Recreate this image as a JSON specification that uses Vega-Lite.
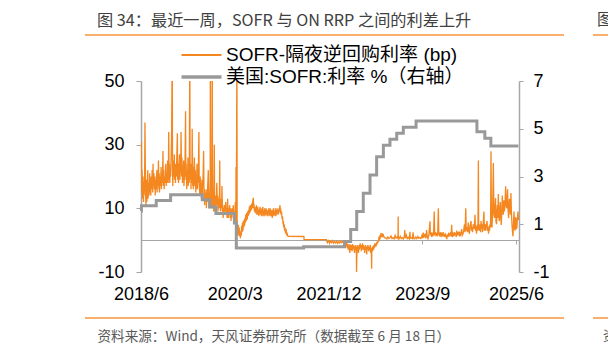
{
"$schema":"https://vega.github.io/schema/vega-lite/v6.json",
"width":378,"height":191,
"autosize":{"type":"none"},
"padding":{"left":141,"top":81,"right":89,"bottom":82},
"background":"white",
"config":{"view":{"stroke":null},"font":"Liberation Sans, Noto Sans CJK SC","axis":{"grid":false}},
"title":{"text":"图 34：最近一周，SOFR 与 ON RRP 之间的利差上升","anchor":"start","frame":"group","dx":-44,"dy":16,"offset":-14,"fontSize":16.2,"font":"Noto Sans CJK SC","fontWeight":"normal","color":"#404040","baseline":"alphabetic"},
"datasets":{
"spread":[
{"d":"2018-06-01","v":25},{"d":"2018-06-04","v":31},{"d":"2018-06-06","v":15},{"d":"2018-06-08","v":22},{"d":"2018-06-12","v":13},{"d":"2018-06-14","v":20},{"d":"2018-06-18","v":12},{"d":"2018-06-20","v":18},{"d":"2018-06-22","v":14},{"d":"2018-06-26","v":21},{"d":"2018-06-28","v":37},
{"d":"2018-07-02","v":15},{"d":"2018-07-05","v":11},{"d":"2018-07-09","v":19},{"d":"2018-07-11","v":12},{"d":"2018-07-13","v":17},{"d":"2018-07-17","v":22},{"d":"2018-07-19","v":13},{"d":"2018-07-23","v":18},{"d":"2018-07-26","v":14},{"d":"2018-07-30","v":21},
{"d":"2018-08-01","v":15},{"d":"2018-08-03","v":19},{"d":"2018-08-07","v":14},{"d":"2018-08-09","v":20},{"d":"2018-08-13","v":16},{"d":"2018-08-16","v":22},{"d":"2018-08-20","v":15},{"d":"2018-08-22","v":24},{"d":"2018-08-24","v":17},{"d":"2018-08-28","v":21},{"d":"2018-08-31","v":16},
{"d":"2018-09-04","v":20},{"d":"2018-09-06","v":14},{"d":"2018-09-10","v":19},{"d":"2018-09-13","v":16},{"d":"2018-09-17","v":22},{"d":"2018-09-19","v":15},{"d":"2018-09-21","v":20},{"d":"2018-09-25","v":17},{"d":"2018-09-28","v":25},
{"d":"2018-10-01","v":16},{"d":"2018-10-03","v":21},{"d":"2018-10-05","v":15},{"d":"2018-10-09","v":20},{"d":"2018-10-12","v":17},{"d":"2018-10-16","v":23},{"d":"2018-10-18","v":16},{"d":"2018-10-22","v":21},{"d":"2018-10-25","v":18},{"d":"2018-10-29","v":28},{"d":"2018-10-31","v":17},
{"d":"2018-11-02","v":22},{"d":"2018-11-06","v":16},{"d":"2018-11-08","v":20},{"d":"2018-11-13","v":18},{"d":"2018-11-15","v":23},{"d":"2018-11-18","v":24},{"d":"2018-11-20","v":17},{"d":"2018-11-23","v":21},{"d":"2018-11-27","v":18},{"d":"2018-11-30","v":25},
{"d":"2018-12-03","v":18},{"d":"2018-12-05","v":22},{"d":"2018-12-07","v":34},{"d":"2018-12-10","v":19},{"d":"2018-12-12","v":24},{"d":"2018-12-14","v":18},{"d":"2018-12-18","v":22},{"d":"2018-12-20","v":20},{"d":"2018-12-24","v":27},{"d":"2018-12-27","v":35},{"d":"2018-12-31","v":60},
{"d":"2019-01-02","v":22},{"d":"2019-01-04","v":17},{"d":"2019-01-08","v":25},{"d":"2019-01-10","v":20},{"d":"2019-01-14","v":27},{"d":"2019-01-16","v":19},{"d":"2019-01-18","v":23},{"d":"2019-01-22","v":18},{"d":"2019-01-24","v":24},{"d":"2019-01-28","v":20},{"d":"2019-01-31","v":26},
{"d":"2019-02-04","v":33.6},{"d":"2019-02-06","v":19},{"d":"2019-02-08","v":24},{"d":"2019-02-12","v":18},{"d":"2019-02-14","v":22},{"d":"2019-02-19","v":27},{"d":"2019-02-21","v":19},{"d":"2019-02-25","v":24},{"d":"2019-02-27","v":21},
{"d":"2019-03-01","v":34},{"d":"2019-03-05","v":20},{"d":"2019-03-07","v":26},{"d":"2019-03-11","v":18},{"d":"2019-03-13","v":23},{"d":"2019-03-15","v":20},{"d":"2019-03-19","v":25},{"d":"2019-03-21","v":17},{"d":"2019-03-25","v":22},{"d":"2019-03-27","v":19},
{"d":"2019-04-01","v":40.5},{"d":"2019-04-03","v":20},{"d":"2019-04-05","v":24},{"d":"2019-04-09","v":16},{"d":"2019-04-11","v":22},{"d":"2019-04-15","v":19},{"d":"2019-04-17","v":26},{"d":"2019-04-19","v":17},{"d":"2019-04-23","v":21},{"d":"2019-04-26","v":18},{"d":"2019-04-30","v":60},
{"d":"2019-05-02","v":19},{"d":"2019-05-06","v":24},{"d":"2019-05-08","v":16},{"d":"2019-05-10","v":22},{"d":"2019-05-14","v":18},{"d":"2019-05-16","v":35},{"d":"2019-05-20","v":17},{"d":"2019-05-22","v":23},{"d":"2019-05-24","v":16},{"d":"2019-05-29","v":21},{"d":"2019-05-31","v":26},
{"d":"2019-06-04","v":17},{"d":"2019-06-06","v":22},{"d":"2019-06-10","v":15},{"d":"2019-06-12","v":20},{"d":"2019-06-14","v":17},{"d":"2019-06-18","v":24},{"d":"2019-06-20","v":16},{"d":"2019-06-24","v":21},{"d":"2019-06-26","v":18},
{"d":"2019-07-01","v":34},{"d":"2019-07-03","v":17},{"d":"2019-07-08","v":14},{"d":"2019-07-10","v":20},{"d":"2019-07-12","v":15},{"d":"2019-07-16","v":18},{"d":"2019-07-18","v":13},{"d":"2019-07-22","v":19},{"d":"2019-07-24","v":14},{"d":"2019-07-26","v":17},{"d":"2019-07-30","v":21},
{"d":"2019-08-02","v":28},{"d":"2019-08-05","v":13},{"d":"2019-08-07","v":16},{"d":"2019-08-09","v":11},{"d":"2019-08-13","v":15},{"d":"2019-08-15","v":12},{"d":"2019-08-19","v":16},{"d":"2019-08-21","v":10},{"d":"2019-08-23","v":14},{"d":"2019-08-27","v":12},{"d":"2019-08-30","v":17},
{"d":"2019-09-03","v":22},{"d":"2019-09-05","v":13},{"d":"2019-09-09","v":10},{"d":"2019-09-11","v":15},{"d":"2019-09-13","v":12},{"d":"2019-09-16","v":20},{"d":"2019-09-17","v":70},{"d":"2019-09-18","v":22},{"d":"2019-09-20","v":12},{"d":"2019-09-24","v":15},{"d":"2019-09-26","v":10},{"d":"2019-09-30","v":60},
{"d":"2019-10-02","v":14},{"d":"2019-10-04","v":10},{"d":"2019-10-08","v":15},{"d":"2019-10-10","v":9},{"d":"2019-10-14","v":30},{"d":"2019-10-16","v":12},{"d":"2019-10-18","v":9},{"d":"2019-10-22","v":14},{"d":"2019-10-24","v":10},{"d":"2019-10-28","v":13},{"d":"2019-10-31","v":18},
{"d":"2019-11-04","v":11},{"d":"2019-11-06","v":14},{"d":"2019-11-08","v":9},{"d":"2019-11-12","v":13},{"d":"2019-11-14","v":10},{"d":"2019-11-18","v":14},{"d":"2019-11-20","v":25},{"d":"2019-11-22","v":11},{"d":"2019-11-26","v":9},{"d":"2019-11-29","v":13},
{"d":"2019-12-03","v":10},{"d":"2019-12-05","v":17},{"d":"2019-12-09","v":9},{"d":"2019-12-11","v":11},{"d":"2019-12-13","v":7},{"d":"2019-12-17","v":10},{"d":"2019-12-19","v":8},{"d":"2019-12-23","v":11},{"d":"2019-12-27","v":9},{"d":"2019-12-31","v":12},
{"d":"2020-01-03","v":8},{"d":"2020-01-07","v":10},{"d":"2020-01-09","v":7},{"d":"2020-01-13","v":13},{"d":"2020-01-15","v":9},{"d":"2020-01-17","v":7},{"d":"2020-01-21","v":10},{"d":"2020-01-23","v":8},{"d":"2020-01-27","v":11},{"d":"2020-01-30","v":7},
{"d":"2020-02-03","v":10},{"d":"2020-02-05","v":6},{"d":"2020-02-07","v":9},{"d":"2020-02-11","v":7},{"d":"2020-02-13","v":10},{"d":"2020-02-18","v":8},{"d":"2020-02-20","v":11},{"d":"2020-02-24","v":7},{"d":"2020-02-26","v":9},{"d":"2020-02-28","v":6},
{"d":"2020-03-03","v":9},{"d":"2020-03-05","v":12},{"d":"2020-03-09","v":6},{"d":"2020-03-10","v":23},{"d":"2020-03-12","v":5},{"d":"2020-03-16","v":60},{"d":"2020-03-18","v":4},{"d":"2020-03-20","v":2},
{"d":"2020-03-24","v":1.5},{"d":"2020-03-26","v":4.8},{"d":"2020-03-30","v":2},{"d":"2020-04-01","v":4},{"d":"2020-04-03","v":1.2},{"d":"2020-04-07","v":2.5},{"d":"2020-04-09","v":0.6},{"d":"2020-04-13","v":3},{"d":"2020-04-15","v":1.5},{"d":"2020-04-17","v":4.5},{"d":"2020-04-21","v":2.5},{"d":"2020-04-23","v":5.5},{"d":"2020-04-27","v":3},{"d":"2020-04-29","v":6},
{"d":"2020-05-01","v":4},{"d":"2020-05-05","v":6.5},{"d":"2020-05-07","v":4.5},{"d":"2020-05-11","v":7},{"d":"2020-05-13","v":5.5},{"d":"2020-05-15","v":8},{"d":"2020-05-19","v":6},{"d":"2020-05-21","v":8.5},{"d":"2020-05-26","v":6.5},{"d":"2020-05-28","v":9},
{"d":"2020-06-01","v":7.5},{"d":"2020-06-03","v":9.5},{"d":"2020-06-05","v":8},{"d":"2020-06-09","v":10.5},{"d":"2020-06-11","v":8.5},{"d":"2020-06-15","v":11},{"d":"2020-06-17","v":9},{"d":"2020-06-19","v":10.5},{"d":"2020-06-23","v":9.5},{"d":"2020-06-25","v":11.5},{"d":"2020-06-29","v":10},
{"d":"2020-07-01","v":12},{"d":"2020-07-06","v":13.3},{"d":"2020-07-08","v":10},{"d":"2020-07-10","v":11.5},{"d":"2020-07-14","v":9},{"d":"2020-07-16","v":10.5},{"d":"2020-07-20","v":8.5},{"d":"2020-07-22","v":10},{"d":"2020-07-24","v":9},{"d":"2020-07-28","v":11},{"d":"2020-07-30","v":8},
{"d":"2020-08-03","v":9.5},{"d":"2020-08-05","v":10.5},{"d":"2020-08-07","v":8},{"d":"2020-08-11","v":9.5},{"d":"2020-08-13","v":7.5},{"d":"2020-08-17","v":10},{"d":"2020-08-19","v":8.5},{"d":"2020-08-21","v":10.5},{"d":"2020-08-25","v":8},{"d":"2020-08-27","v":9.5},{"d":"2020-08-31","v":7.5},
{"d":"2020-09-02","v":10},{"d":"2020-09-04","v":8.5},{"d":"2020-09-09","v":10.5},{"d":"2020-09-11","v":7.5},{"d":"2020-09-15","v":9},{"d":"2020-09-17","v":8},{"d":"2020-09-21","v":10},{"d":"2020-09-23","v":7.5},{"d":"2020-09-25","v":9.5},{"d":"2020-09-29","v":8},
{"d":"2020-10-01","v":10},{"d":"2020-10-05","v":8.5},{"d":"2020-10-07","v":9.5},{"d":"2020-10-09","v":7.5},{"d":"2020-10-13","v":9},{"d":"2020-10-15","v":8},{"d":"2020-10-19","v":10},{"d":"2020-10-21","v":7.5},{"d":"2020-10-23","v":9},{"d":"2020-10-27","v":8},{"d":"2020-10-29","v":10},
{"d":"2020-11-02","v":7.5},{"d":"2020-11-04","v":9},{"d":"2020-11-06","v":8},{"d":"2020-11-10","v":9.5},{"d":"2020-11-12","v":7},{"d":"2020-11-16","v":9},{"d":"2020-11-18","v":8},{"d":"2020-11-20","v":10},{"d":"2020-11-24","v":7.5},{"d":"2020-11-27","v":9},
{"d":"2020-12-01","v":8},{"d":"2020-12-03","v":10},{"d":"2020-12-07","v":7.5},{"d":"2020-12-09","v":9.5},{"d":"2020-12-11","v":8},{"d":"2020-12-15","v":10},{"d":"2020-12-17","v":8.5},{"d":"2020-12-21","v":9.5},{"d":"2020-12-23","v":8},{"d":"2020-12-28","v":10},{"d":"2020-12-30","v":9},
{"d":"2021-01-04","v":11},{"d":"2021-01-06","v":8.5},{"d":"2021-01-08","v":10},{"d":"2021-01-12","v":8},{"d":"2021-01-14","v":9},{"d":"2021-01-19","v":6.5},{"d":"2021-01-21","v":7.5},{"d":"2021-01-25","v":5},{"d":"2021-01-27","v":6},{"d":"2021-01-29","v":4},
{"d":"2021-02-02","v":5},{"d":"2021-02-04","v":3},{"d":"2021-02-08","v":4},{"d":"2021-02-10","v":2.5},{"d":"2021-02-16","v":3},{"d":"2021-02-19","v":1.8},{"d":"2021-02-23","v":2},{"d":"2021-02-26","v":1.3},{"d":"2021-03-02","v":1.2},{"d":"2021-06-16","v":1.15},
{"d":"2021-06-17","v":0.2},{"d":"2021-11-17","v":0.2},{"d":"2021-11-19","v":-0.3},{"d":"2021-11-24","v":-0.8},{"d":"2021-12-01","v":-0.2},{"d":"2021-12-08","v":-0.9},{"d":"2021-12-15","v":-0.3},{"d":"2021-12-22","v":-0.8},{"d":"2021-12-29","v":-0.2},
{"d":"2022-01-05","v":-0.9},{"d":"2022-01-12","v":-0.4},{"d":"2022-01-19","v":-0.9},{"d":"2022-01-26","v":-0.3},{"d":"2022-02-02","v":-1},{"d":"2022-02-09","v":-0.4},{"d":"2022-02-16","v":-0.9},{"d":"2022-02-23","v":-0.3},{"d":"2022-03-02","v":-0.8},{"d":"2022-03-09","v":-0.4},{"d":"2022-03-14","v":-1},
{"d":"2022-03-17","v":0},{"d":"2022-03-21","v":-1},{"d":"2022-03-24","v":-0.3},{"d":"2022-03-28","v":-1.5},{"d":"2022-03-31","v":-0.5},
{"d":"2022-04-04","v":-2},{"d":"2022-04-06","v":-1},{"d":"2022-04-08","v":-2.5},{"d":"2022-04-12","v":-1.2},{"d":"2022-04-14","v":-3},{"d":"2022-04-19","v":-1.5},{"d":"2022-04-21","v":-2.2},{"d":"2022-04-25","v":-4},{"d":"2022-04-27","v":-1.3},{"d":"2022-04-29","v":-2.8},
{"d":"2022-05-03","v":-1.5},{"d":"2022-05-05","v":-3.2},{"d":"2022-05-09","v":-2},{"d":"2022-05-11","v":-3.5},{"d":"2022-05-13","v":-1.2},{"d":"2022-05-17","v":-2.8},{"d":"2022-05-19","v":-1.6},{"d":"2022-05-23","v":-3},{"d":"2022-05-25","v":-2},{"d":"2022-05-27","v":-4},
{"d":"2022-06-01","v":-1.5},{"d":"2022-06-03","v":-3},{"d":"2022-06-07","v":-2},{"d":"2022-06-09","v":-4.5},{"d":"2022-06-10","v":-10},{"d":"2022-06-13","v":-3},{"d":"2022-06-15","v":-1.5},{"d":"2022-06-17","v":-3.5},{"d":"2022-06-21","v":-2},{"d":"2022-06-23","v":-4},{"d":"2022-06-27","v":-1.5},{"d":"2022-06-29","v":-3},
{"d":"2022-07-01","v":-2.5},{"d":"2022-07-05","v":-1},{"d":"2022-07-07","v":-2.5},{"d":"2022-07-11","v":-1.5},{"d":"2022-07-13","v":-3.5},{"d":"2022-07-15","v":-2},{"d":"2022-07-19","v":-3},{"d":"2022-07-21","v":-1},{"d":"2022-07-25","v":-2.5},{"d":"2022-07-27","v":-1.5},{"d":"2022-07-29","v":-3},
{"d":"2022-08-02","v":-2},{"d":"2022-08-04","v":-4},{"d":"2022-08-08","v":-2.5},{"d":"2022-08-10","v":-1.5},{"d":"2022-08-12","v":-3},{"d":"2022-08-16","v":-2},{"d":"2022-08-18","v":-4.5},{"d":"2022-08-22","v":-2},{"d":"2022-08-24","v":-3},{"d":"2022-08-26","v":-1.5},{"d":"2022-08-30","v":-2.5},
{"d":"2022-09-01","v":-3.5},{"d":"2022-09-06","v":-2},{"d":"2022-09-08","v":-3},{"d":"2022-09-12","v":-1.5},{"d":"2022-09-14","v":-4},{"d":"2022-09-16","v":-2.5},{"d":"2022-09-19","v":-3},{"d":"2022-09-21","v":-9},{"d":"2022-09-22","v":-3.5},{"d":"2022-09-26","v":-2},{"d":"2022-09-28","v":-3.5},{"d":"2022-09-30","v":-2},
{"d":"2022-10-04","v":-3},{"d":"2022-10-06","v":-1.5},{"d":"2022-10-10","v":-2.5},{"d":"2022-10-12","v":-1},{"d":"2022-10-14","v":-2},{"d":"2022-10-18","v":-1.2},{"d":"2022-10-20","v":-2},{"d":"2022-10-24","v":-0.8},{"d":"2022-10-26","v":-1.5},{"d":"2022-10-28","v":-0.5},
{"d":"2022-11-01","v":-1},{"d":"2022-11-03","v":0},{"d":"2022-11-07","v":-0.5},{"d":"2022-11-09","v":0.5},{"d":"2022-11-14","v":0},{"d":"2022-11-16","v":1.5},{"d":"2022-11-18","v":0.5},{"d":"2022-11-22","v":1.7},{"d":"2022-11-28","v":1},{"d":"2022-11-30","v":2.2},
{"d":"2022-12-02","v":1.5},{"d":"2022-12-06","v":1},{"d":"2022-12-08","v":2},{"d":"2022-12-12","v":1.2},{"d":"2022-12-14","v":1},{"d":"2022-12-19","v":0.7},{"d":"2022-12-28","v":0.7},
{"d":"2023-01-03","v":0.4},{"d":"2023-01-10","v":1},{"d":"2023-01-17","v":0.5},{"d":"2023-01-24","v":0.8},{"d":"2023-01-31","v":1.3},{"d":"2023-02-07","v":0.5},{"d":"2023-02-14","v":0.8},{"d":"2023-02-21","v":0.4},{"d":"2023-02-28","v":1.5},
{"d":"2023-03-07","v":0.6},{"d":"2023-03-14","v":1},{"d":"2023-03-20","v":0.5},{"d":"2023-03-21","v":7.4},{"d":"2023-03-22","v":0.8},{"d":"2023-03-28","v":0.5},{"d":"2023-04-04","v":1.2},{"d":"2023-04-11","v":0.5},{"d":"2023-04-18","v":0.8},{"d":"2023-04-25","v":0.4},
{"d":"2023-05-02","v":1.2},{"d":"2023-05-05","v":3.2},{"d":"2023-05-08","v":0.6},{"d":"2023-05-15","v":1.6},{"d":"2023-05-22","v":0.5},{"d":"2023-05-29","v":0.9},{"d":"2023-06-05","v":0.4},{"d":"2023-06-09","v":2.6},{"d":"2023-06-12","v":0.6},{"d":"2023-06-20","v":0.8},{"d":"2023-06-27","v":0.5},{"d":"2023-06-30","v":2.5},
{"d":"2023-07-05","v":0.6},{"d":"2023-07-12","v":0.4},{"d":"2023-07-19","v":1},{"d":"2023-07-26","v":0.5},{"d":"2023-08-02","v":1.2},{"d":"2023-08-09","v":0.6},{"d":"2023-08-16","v":0.8},{"d":"2023-08-23","v":0.5},{"d":"2023-08-30","v":1.5},
{"d":"2023-09-05","v":0.6},{"d":"2023-09-08","v":2.4},{"d":"2023-09-12","v":0.8},{"d":"2023-09-20","v":2},{"d":"2023-09-26","v":0.6},{"d":"2023-10-01","v":3.2},{"d":"2023-10-05","v":1.2},{"d":"2023-10-10","v":0.5},{"d":"2023-10-17","v":1.8},{"d":"2023-10-24","v":5.9},{"d":"2023-10-27","v":1.5},
{"d":"2023-11-01","v":2.5},{"d":"2023-11-04","v":1},{"d":"2023-11-09","v":2.4},{"d":"2023-11-13","v":1.2},{"d":"2023-11-17","v":2},{"d":"2023-11-22","v":9},{"d":"2023-11-25","v":1.5},{"d":"2023-12-01","v":2.5},{"d":"2023-12-05","v":1.5},{"d":"2023-12-11","v":2},{"d":"2023-12-15","v":1.2},{"d":"2023-12-20","v":10},{"d":"2023-12-23","v":2},{"d":"2023-12-28","v":1.5},
{"d":"2024-01-03","v":2.5},{"d":"2024-01-07","v":1},{"d":"2024-01-12","v":2},{"d":"2024-01-17","v":1.5},{"d":"2024-01-21","v":2.5},{"d":"2024-01-26","v":1.2},{"d":"2024-01-31","v":2},
{"d":"2024-02-03","v":1},{"d":"2024-02-08","v":1.8},{"d":"2024-02-12","v":1.2},{"d":"2024-02-15","v":0.3},{"d":"2024-02-20","v":1.5},{"d":"2024-02-27","v":2},
{"d":"2024-03-01","v":1},{"d":"2024-03-05","v":2.2},{"d":"2024-03-08","v":1.5},{"d":"2024-03-13","v":2.5},{"d":"2024-03-16","v":1.2},{"d":"2024-03-20","v":4.8},{"d":"2024-03-23","v":1},{"d":"2024-03-29","v":2},
{"d":"2024-04-03","v":1.2},{"d":"2024-04-08","v":2.5},{"d":"2024-04-11","v":1.5},{"d":"2024-04-16","v":2.2},{"d":"2024-04-20","v":1},{"d":"2024-04-23","v":3},{"d":"2024-04-27","v":1.5},
{"d":"2024-05-01","v":2.5},{"d":"2024-05-04","v":1.5},{"d":"2024-05-09","v":2.8},{"d":"2024-05-13","v":1.2},{"d":"2024-05-16","v":2.5},{"d":"2024-05-20","v":1.8},{"d":"2024-05-23","v":2.2},{"d":"2024-05-27","v":3.5},{"d":"2024-05-31","v":1.5},
{"d":"2024-06-05","v":2},{"d":"2024-06-10","v":3},{"d":"2024-06-15","v":5},{"d":"2024-06-19","v":2.5},{"d":"2024-06-24","v":10},{"d":"2024-06-27","v":3},
{"d":"2024-07-02","v":4},{"d":"2024-07-06","v":2.5},{"d":"2024-07-11","v":5.5},{"d":"2024-07-15","v":3},{"d":"2024-07-19","v":2},{"d":"2024-07-24","v":4.5},{"d":"2024-07-30","v":6},
{"d":"2024-08-02","v":3},{"d":"2024-08-06","v":4},{"d":"2024-08-09","v":2.5},{"d":"2024-08-14","v":5},{"d":"2024-08-19","v":3.5},{"d":"2024-08-22","v":4.5},{"d":"2024-08-26","v":8},{"d":"2024-08-29","v":3},
{"d":"2024-09-02","v":4.5},{"d":"2024-09-05","v":2},{"d":"2024-09-09","v":4},{"d":"2024-09-12","v":5},{"d":"2024-09-15","v":3},{"d":"2024-09-18","v":25},{"d":"2024-09-20","v":4},{"d":"2024-09-26","v":3},{"d":"2024-09-30","v":5},
{"d":"2024-10-03","v":2.5},{"d":"2024-10-06","v":6},{"d":"2024-10-10","v":3.5},{"d":"2024-10-13","v":5},{"d":"2024-10-16","v":2.5},{"d":"2024-10-20","v":4.5},{"d":"2024-10-26","v":9},{"d":"2024-10-29","v":3},
{"d":"2024-11-02","v":5},{"d":"2024-11-06","v":3},{"d":"2024-11-10","v":4.5},{"d":"2024-11-16","v":6},{"d":"2024-11-19","v":3},{"d":"2024-11-23","v":4},{"d":"2024-11-26","v":2},{"d":"2024-11-30","v":4.5},
{"d":"2024-12-03","v":3},{"d":"2024-12-06","v":5},{"d":"2024-12-10","v":4},{"d":"2024-12-13","v":27.9},{"d":"2024-12-16","v":5},{"d":"2024-12-20","v":4},{"d":"2024-12-24","v":9},{"d":"2024-12-29","v":24.2},
{"d":"2025-01-02","v":8},{"d":"2025-01-06","v":7},{"d":"2025-01-09","v":10},{"d":"2025-01-13","v":13.2},{"d":"2025-01-16","v":6},{"d":"2025-01-20","v":5},{"d":"2025-01-23","v":9},{"d":"2025-01-26","v":11},{"d":"2025-01-29","v":7},
{"d":"2025-02-01","v":14.5},{"d":"2025-02-04","v":8},{"d":"2025-02-08","v":6},{"d":"2025-02-11","v":10},{"d":"2025-02-15","v":12},{"d":"2025-02-18","v":7},{"d":"2025-02-21","v":4.8},{"d":"2025-02-25","v":9},{"d":"2025-02-28","v":14},
{"d":"2025-03-03","v":10},{"d":"2025-03-07","v":8},{"d":"2025-03-11","v":12.5},{"d":"2025-03-15","v":9},{"d":"2025-03-19","v":12},{"d":"2025-03-23","v":16.9},{"d":"2025-03-26","v":11},{"d":"2025-03-30","v":10},
{"d":"2025-04-02","v":13},{"d":"2025-04-05","v":16},{"d":"2025-04-08","v":10},{"d":"2025-04-12","v":7},{"d":"2025-04-15","v":11},{"d":"2025-04-18","v":13},{"d":"2025-04-22","v":9},{"d":"2025-04-25","v":8},{"d":"2025-04-28","v":14.8},
{"d":"2025-05-01","v":9},{"d":"2025-05-05","v":5},{"d":"2025-05-08","v":3},{"d":"2025-05-12","v":1.2},{"d":"2025-05-15","v":5},{"d":"2025-05-19","v":9},{"d":"2025-05-22","v":4},{"d":"2025-05-26","v":3},{"d":"2025-05-29","v":7},
{"d":"2025-06-01","v":6.9},{"d":"2025-06-04","v":3.5},{"d":"2025-06-08","v":4},{"d":"2025-06-11","v":7},{"d":"2025-06-15","v":9},{"d":"2025-06-18","v":6.3}
],
"sofr":[
{"d":"2018-06-01","r":1.55},{"d":"2018-06-04","r":1.78},{"d":"2018-09-13","r":2.0},{"d":"2018-12-20","r":2.24},{"d":"2019-07-24","r":2.03},{"d":"2019-09-12","r":1.72},{"d":"2019-10-25","r":1.45},{"d":"2020-02-28","r":1.05},{"d":"2020-03-12","r":0.01},{"d":"2021-06-14","r":0.06},{"d":"2022-03-20","r":0.28},{"d":"2022-05-01","r":0.78},{"d":"2022-06-11","r":1.53},{"d":"2022-07-26","r":2.3},{"d":"2022-09-10","r":3.06},{"d":"2022-10-25","r":3.83},{"d":"2022-12-10","r":4.31},{"d":"2023-01-24","r":4.56},{"d":"2023-03-11","r":4.81},{"d":"2023-04-25","r":5.06},{"d":"2023-07-21","r":5.32},{"d":"2024-09-08","r":4.87},{"d":"2024-11-01","r":4.6},{"d":"2024-12-12","r":4.28},{"d":"2025-06-18","r":4.28}
]
},
"layer":[
{"data":{"name":"spread"},
 "mark":{"type":"line","strokeWidth":1.3,"clip":true},
 "encoding":{
  "x":{"field":"d","type":"temporal","scale":{"type":"utc","domain":[{"year":2018,"month":6,"date":1,"utc":true},{"year":2025,"month":6,"date":22,"utc":true}]},
   "axis":{"values":[{"year":2018,"month":6,"date":1,"utc":true},{"year":2020,"month":3,"date":1,"utc":true},{"year":2021,"month":12,"date":1,"utc":true},{"year":2023,"month":9,"date":1,"utc":true},{"year":2025,"month":6,"date":1,"utc":true}],
    "format":"%Y/%-m","offset":-32,"domainColor":"#A6A6A6","domainWidth":1,"tickColor":"#A6A6A6","tickSize":4,"labelPadding":41,"labelFontSize":18,"labelColor":"#000000","labelFont":"Liberation Sans","labelFlush":false,"labelOverlap":false,
    "title":"资料来源：Wind，天风证券研究所（数据截至 6 月 18 日）","titleAnchor":"start","titleAlign":"left","titleX":-44,"titleY":96,"titleBaseline":"middle","titleFontSize":13.6,"titleFontWeight":"normal","titleColor":"#595959","titleFont":"Noto Sans CJK SC"}},
  "y":{"field":"v","type":"quantitative","scale":{"domain":[-10,50],"nice":false,"zero":false},
   "axis":{"orient":"left","values":[-10,10,30,50],"labelExpr":"toString(datum.value)","title":null,"domainColor":"#A6A6A6","domainWidth":1.5,"tickColor":"#A6A6A6","tickSize":5,"labelPadding":12,"labelFontSize":18,"labelColor":"#000000","labelFont":"Liberation Sans"}},
  "color":{"datum":"SOFR-隔夜逆回购利率 (bp)","type":"nominal",
   "scale":{"domain":["SOFR-隔夜逆回购利率 (bp)","美国:SOFR:利率 %（右轴）"],"range":["#F4871F","#999999"]},
   "legend":{"orient":"none","legendX":51,"legendY":-35.5,"title":null,"symbolType":"stroke","symbolSize":1600,"symbolStrokeWidth":2,"labelFontSize":19,"labelFont":"Liberation Sans, Noto Sans CJK SC","labelColor":"#000000","labelOffset":15,"rowPadding":2,"labelLimit":400,"direction":"vertical",
    "encode":{"symbols":{"update":{"strokeWidth":{"signal":"datum.index === 1 ? 3.5 : 2"}}}}}}
 }},
{"data":{"name":"sofr"},
 "mark":{"type":"line","strokeWidth":3,"interpolate":"step-after","strokeJoin":"miter"},
 "encoding":{
  "x":{"field":"d","type":"temporal"},
  "y":{"field":"r","type":"quantitative","scale":{"domain":[-1,7],"nice":false,"zero":false},
   "axis":{"orient":"right","values":[-1,1,3,5,7],"labelExpr":"toString(datum.value)","title":null,"domainColor":"#A6A6A6","domainWidth":1.5,"tickColor":"#A6A6A6","tickSize":4,"labelPadding":10,"labelFontSize":18,"labelColor":"#000000","labelFont":"Liberation Sans"}},
  "color":{"datum":"美国:SOFR:利率 %（右轴）","type":"nominal"}
 }},
{"data":{"values":[{"k":"top"}]},"mark":{"type":"rule","color":"#F7963C","strokeWidth":1.5,"clip":false},"encoding":{"x":{"value":-56},"x2":{"value":423},"y":{"value":-46}}},
{"data":{"values":[{"k":"bottom"}]},"mark":{"type":"rule","color":"#F7963C","strokeWidth":1.5,"clip":false},"encoding":{"x":{"value":-56},"x2":{"value":423},"y":{"value":237}}},
{"data":{"values":[{"k":"top2"}]},"mark":{"type":"rule","color":"#F7963C","strokeWidth":1.5,"clip":false},"encoding":{"x":{"value":452},"x2":{"value":480},"y":{"value":-46}}},
{"data":{"values":[{"k":"bottom2"}]},"mark":{"type":"rule","color":"#F7963C","strokeWidth":1.5,"clip":false},"encoding":{"x":{"value":452},"x2":{"value":480},"y":{"value":237}}},
{"data":{"values":[{"t":"图"}]},"mark":{"type":"text","align":"left","baseline":"middle","fontSize":16,"font":"Noto Sans CJK SC","color":"#404040","clip":false},"encoding":{"text":{"field":"t"},"x":{"value":456},"y":{"value":-61}}},
{"data":{"values":[{"t":"资"}]},"mark":{"type":"text","align":"left","baseline":"middle","fontSize":13,"font":"Noto Sans CJK SC","color":"#595959","clip":false},"encoding":{"text":{"field":"t"},"x":{"value":462},"y":{"value":255}}}
],
"resolve":{"scale":{"y":"independent"}}
}
